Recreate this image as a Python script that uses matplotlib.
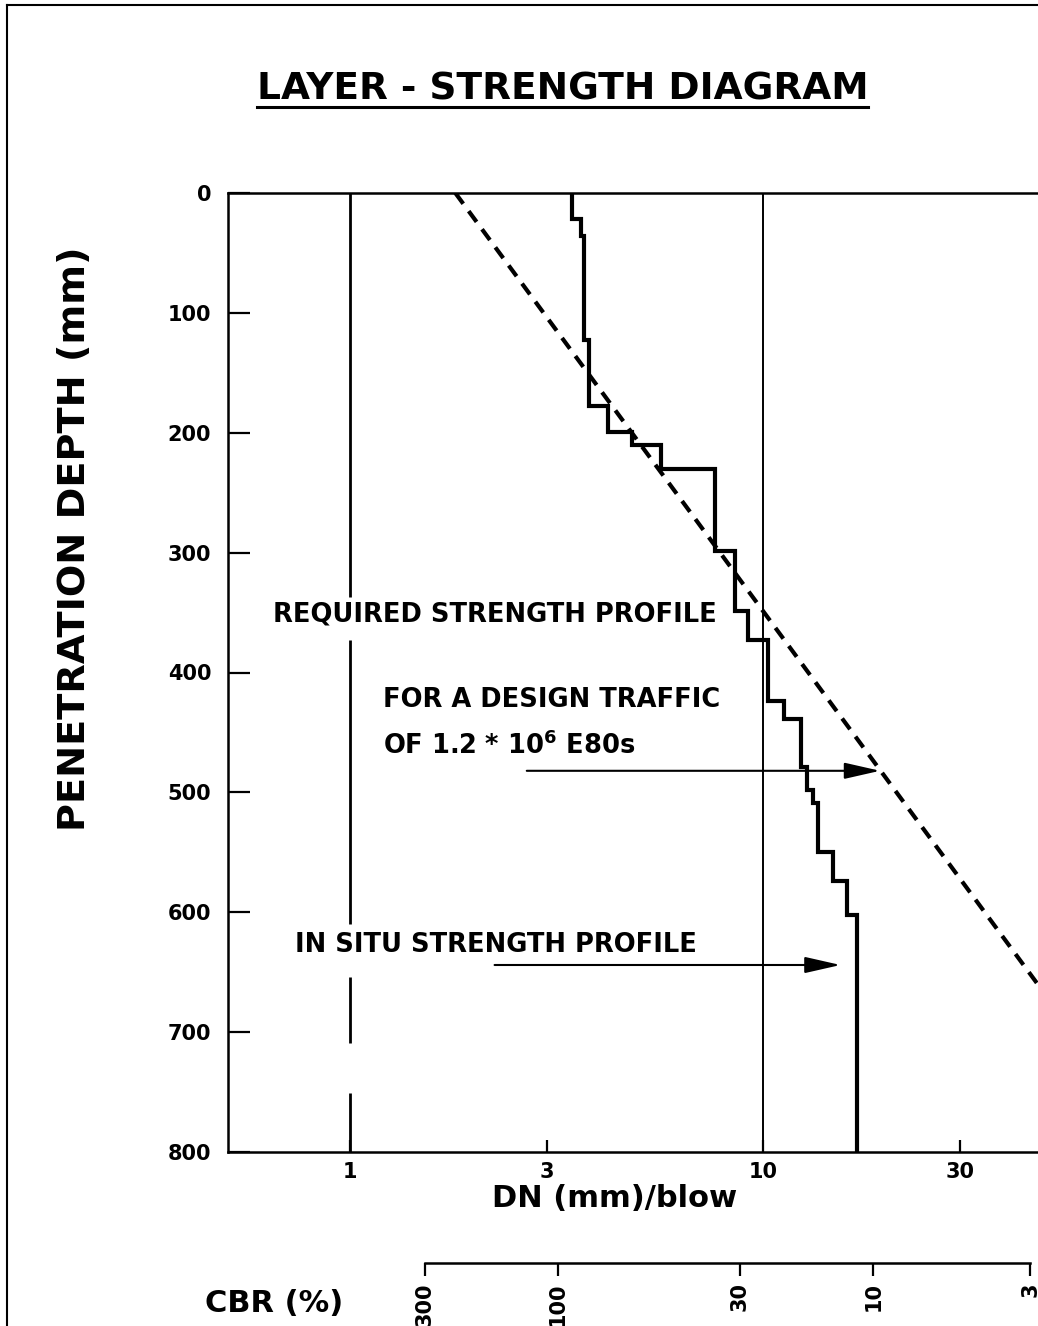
import matplotlib
matplotlib.use("Agg")
import matplotlib.pyplot as plt
from matplotlib.ticker import FixedLocator, NullLocator, FixedFormatter
from matplotlib.lines import Line2D

# ---------------- data ----------------
insitu_depth_top = [0, 22, 36, 123, 178, 199, 210, 230, 299, 349, 373, 424,
                    439, 479, 498, 509, 550, 574, 602]
insitu_dn = [3.44, 3.62, 3.69, 3.80, 4.22, 4.81, 5.65, 7.65, 8.55, 9.18, 10.30,
             11.24, 12.36, 12.76, 13.19, 13.61, 14.75, 15.95, 16.86]
max_depth = 800

required_depth = [0, 800]
required_dn = [1.80, 92.0]

dn_ticks = [1, 3, 10, 30]
dn_tick_labels = ["1", "3", "10", "30"]
depth_ticks = [0, 100, 200, 300, 400, 500, 600, 700, 800]

grid10_dn = 10
grid1_dn = 1
grid1_segments = [(0, 337), (373, 610), (654, 709), (751, 800)]

cbr_labels = ["300", "100", "30", "10", "3"]
cbr_dn = [1.52, 3.19, 8.78, 18.5, 44.3]

arrow_required = {"depth": 482, "dn_start": 2.68, "dn_end": 19.2}
arrow_insitu = {"depth": 644, "dn_start": 2.24, "dn_end": 15.4}

annotations = [
    ("REQUIRED STRENGTH PROFILE", 0.651, 352),
    ("FOR A DESIGN TRAFFIC", 1.20, 423),
    (r"OF 1.2 * 10$^{\mathbf{6}}$ E80s", 1.20, 461),
    ("IN SITU STRENGTH PROFILE", 0.736, 627),
]

# ---------------- figure ----------------
W, H = 1038, 1326
plt.rcParams["font.family"] = ["DejaVu Sans"]
plt.rcParams["font.weight"] = "bold"
plt.rcParams["mathtext.default"] = "bf"
fig = plt.figure(figsize=(W / 100, H / 100), dpi=100)
fig.patch.set_facecolor("white")

ax_left, ax_right = 228, 1038
ax_top, ax_bottom = 193, 1152
ax = fig.add_axes([ax_left / W, 1 - ax_bottom / H, (ax_right - ax_left) / W,
                   (ax_bottom - ax_top) / H])
ax.set_xscale("log")
ax.set_xlim(0.507, 46.3)
ax.set_ylim(max_depth, 0)

for s in ["left", "top", "bottom"]:
    ax.spines[s].set_linewidth(1.8)
ax.spines["right"].set_visible(False)

ax.xaxis.set_major_locator(FixedLocator(dn_ticks))
ax.xaxis.set_major_formatter(FixedFormatter(dn_tick_labels))
ax.xaxis.set_minor_locator(NullLocator())
ax.yaxis.set_major_locator(FixedLocator(depth_ticks))
ax.yaxis.set_minor_locator(NullLocator())
ax.tick_params(axis="x", direction="in", length=9, width=1.6, pad=7,
               labelsize=15, top=False)
ax.tick_params(axis="y", direction="in", length=16, width=1.6, pad=12,
               labelsize=15, right=False)
for lab in ax.get_xticklabels() + ax.get_yticklabels():
    lab.set_fontweight("bold")

# grid lines at DN = 1 and 10
ax.axvline(grid10_dn, color="black", lw=1.4)
for d0, d1 in grid1_segments:
    ax.plot([grid1_dn, grid1_dn], [d0, d1], color="black", lw=2.0,
            solid_capstyle="butt")

# in situ step profile
xs, ys = [], []
bounds = insitu_depth_top + [max_depth]
for i, dn in enumerate(insitu_dn):
    xs += [dn, dn]
    ys += [bounds[i], bounds[i + 1]]
ax.plot(xs, ys, color="black", lw=3.0, solid_joinstyle="miter")

# required profile (dashed)
ax.plot(required_dn, required_depth, color="black", lw=3.0,
        linestyle=(0, (3.2, 2.2)), dash_capstyle="butt")

# arrows
for arr in (arrow_required, arrow_insitu):
    ax.annotate("", xy=(arr["dn_end"], arr["depth"]),
                xytext=(arr["dn_start"], arr["depth"]),
                arrowprops=dict(arrowstyle="-|>,head_length=2.2,head_width=0.5",
                                lw=1.5, color="black", mutation_scale=10,
                                shrinkA=0, shrinkB=0))

for txt, x, y in annotations:
    ax.text(x, y, txt, fontsize=18.5, fontweight="bold", ha="left",
            va="center")

ax.set_xlabel("DN (mm)/blow", fontsize=22, fontweight="bold")
ax.xaxis.set_label_coords((615 - ax_left) / (ax_right - ax_left),
                          (ax_bottom - 1184) / (ax_bottom - ax_top))
ax.set_ylabel("PENETRATION DEPTH (mm)", fontsize=27.5, fontweight="bold")
ax.yaxis.set_label_coords((93 - ax_left) / (ax_right - ax_left),
                          (ax_bottom - 539) / (ax_bottom - ax_top))

# CBR scale
cbr_y = 1263
ax2 = fig.add_axes([ax_left / W, 0, (ax_right - ax_left) / W, (H - cbr_y) / H])
ax2.set_xscale("log")
ax2.set_xlim(ax.get_xlim())
ax2.patch.set_visible(False)
for s in ["left", "right", "top"]:
    ax2.spines[s].set_visible(False)
ax2.spines["bottom"].set_position(("axes", 1.0))
ax2.spines["bottom"].set_bounds(cbr_dn[0], cbr_dn[-1])
ax2.spines["bottom"].set_linewidth(1.8)
ax2.xaxis.set_major_locator(FixedLocator(cbr_dn))
ax2.xaxis.set_major_formatter(FixedFormatter(cbr_labels))
ax2.xaxis.set_minor_locator(NullLocator())
ax2.set_yticks([])
ax2.tick_params(axis="x", direction="out", length=9, width=1.6, pad=5,
                labelsize=15, labelrotation=90)
for lab in ax2.get_xticklabels():
    lab.set_fontweight("bold")

fig.text(205 / W, 1 - 1303 / H, "CBR (%)", fontsize=22, fontweight="bold",
         ha="left", va="center")

# title with underline
title = fig.text(562.5 / W, 1 - 90 / H, "LAYER - STRENGTH DIAGRAM",
                 fontsize=27, fontweight="bold", ha="center", va="center")
fig.canvas.draw()
bb = title.get_window_extent().transformed(fig.transFigure.inverted())
fig.add_artist(Line2D([bb.x0, bb.x1], [1 - 107 / H, 1 - 107 / H],
                      transform=fig.transFigure, color="black", lw=2.2))

# page frame
fig.add_artist(Line2D([7 / W, 7 / W], [0, 1 - 5 / H], transform=fig.transFigure,
                      color="black", lw=1.5))
fig.add_artist(Line2D([7 / W, 1], [1 - 5 / H, 1 - 5 / H],
                      transform=fig.transFigure, color="black", lw=1.5))

fig.savefig("out.png", dpi=100, facecolor="white")
